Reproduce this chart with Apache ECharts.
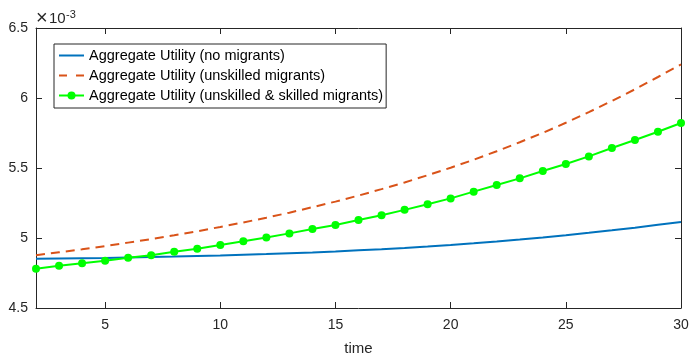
<!DOCTYPE html>
<html>
<head>
<meta charset="utf-8">
<script src="https://cdn.jsdelivr.net/npm/echarts@6/dist/echarts.min.js"></script>
<style>
  html, body { margin: 0; padding: 0; background: #fff; }
  #chart { width: 691px; height: 354px; }
</style>
</head>
<body>
<div id="chart"></div>
<script>
// time steps
var timeSteps = [2, 3, 4, 5, 6, 7, 8, 9, 10, 11, 12, 13, 14, 15, 16, 17, 18, 19, 20, 21, 22, 23, 24, 25, 26, 27, 28, 29, 30]
// values in units of 1e-3
var noMigrants = [4.852, 4.854, 4.856, 4.858, 4.861, 4.864, 4.867, 4.871, 4.875, 4.880, 4.885, 4.891, 4.897, 4.904, 4.912,
  4.920, 4.929, 4.939, 4.950, 4.962, 4.975, 4.989, 5.004, 5.020, 5.037, 5.055, 5.074, 5.094, 5.114]
var unskilledMigrants = [4.877, 4.898, 4.919, 4.942, 4.967, 4.992, 5.019, 5.048, 5.079, 5.111, 5.145, 5.181, 5.220, 5.260, 5.303,
  5.349, 5.397, 5.448, 5.502, 5.559, 5.620, 5.684, 5.751, 5.823, 5.899, 5.979, 6.062, 6.150, 6.240]
var bothMigrants = [4.781, 4.802, 4.819, 4.838, 4.859, 4.876, 4.902, 4.924, 4.950, 4.976, 5.004, 5.033, 5.064, 5.093, 5.128,
  5.163, 5.201, 5.241, 5.283, 5.331, 5.379, 5.426, 5.479, 5.529, 5.583, 5.643, 5.700, 5.759, 5.821]
var xTicks = [5, 10, 15, 20, 25, 30]
var seriesNames = ['Aggregate Utility (no migrants)', 'Aggregate Utility (unskilled migrants)', 'Aggregate Utility (unskilled & skilled migrants)']

function pairs(vals) {
  return timeSteps.map(function (t, i) { return [t, vals[i]] })
}

var axisColor = '#262626'
var font = 'Liberation Sans, Arial, sans-serif'

var chart = echarts.init(document.getElementById('chart'))
chart.setOption({
  animation: false,
  grid: { left: 36, right: 10, top: 28, bottom: 46, containLabel: false, outerBoundsMode: 'none' },
  graphic: [
    { type: 'text', left: 36, top: 8, style: { text: '×', font: '20px ' + font, fill: axisColor } },
    { type: 'text', left: 49, top: 11, style: { text: '10', font: '15px ' + font, fill: axisColor } },
    { type: 'text', left: 66, top: 9, style: { text: '-3', font: '11px ' + font, fill: axisColor } }
  ],
  legend: {
    orient: 'vertical',
    left: 54,
    top: 44,
    padding: [4, 3, 5, 4],
    itemWidth: 25,
    itemHeight: 10,
    itemGap: 5,
    borderColor: axisColor,
    borderWidth: 1,
    backgroundColor: '#fff',
    textStyle: { fontFamily: font, fontSize: 14.5, color: '#000', lineHeight: 14 },
    data: [
      { name: seriesNames[0], icon: 'path://M0,0h25v2h-25z' },
      { name: seriesNames[1], icon: 'path://M0,0h8v2h-8zM17,0h8v2h-8z' },
      { name: seriesNames[2] }
    ]
  },
  xAxis: [{
    type: 'value',
    min: 2,
    max: 30,
    name: 'time',
    nameLocation: 'middle',
    nameGap: 33,
    nameTextStyle: { fontFamily: font, fontSize: 15, color: axisColor },
    axisLine: { lineStyle: { color: axisColor, width: 1 } },
    axisTick: { inside: true, length: 6, customValues: xTicks, lineStyle: { color: axisColor } },
    axisLabel: { customValues: xTicks, margin: 10, fontFamily: font, fontSize: 14, color: axisColor },
    splitLine: { show: false }
  }, {
    type: 'value',
    position: 'top',
    min: 2,
    max: 30,
    axisLine: { lineStyle: { color: axisColor, width: 1 } },
    axisTick: { inside: true, length: 6, customValues: xTicks, lineStyle: { color: axisColor } },
    axisLabel: { show: false },
    splitLine: { show: false }
  }],
  yAxis: [{
    type: 'value',
    min: 4.5,
    max: 6.5,
    interval: 0.5,
    axisLine: { show: true, lineStyle: { color: axisColor, width: 1 } },
    axisTick: { show: true, inside: true, length: 6, lineStyle: { color: axisColor } },
    axisLabel: { margin: 8, fontFamily: font, fontSize: 14, color: axisColor },
    splitLine: { show: false }
  }, {
    type: 'value',
    position: 'right',
    min: 4.5,
    max: 6.5,
    interval: 0.5,
    axisLine: { show: true, lineStyle: { color: axisColor, width: 1 } },
    axisTick: { show: true, inside: true, length: 6, lineStyle: { color: axisColor } },
    axisLabel: { show: false },
    splitLine: { show: false }
  }],
  series: [{
    name: seriesNames[0],
    type: 'line',
    data: pairs(noMigrants),
    symbol: 'none',
    itemStyle: { color: '#0072BD' },
    lineStyle: { color: '#0072BD', width: 2 }
  }, {
    name: seriesNames[1],
    type: 'line',
    data: pairs(unskilledMigrants),
    symbol: 'none',
    itemStyle: { color: '#D95319' },
    lineStyle: { color: '#D95319', width: 2, type: [9, 6] }
  }, {
    name: seriesNames[2],
    type: 'line',
    data: pairs(bothMigrants),
    symbol: 'circle',
    symbolSize: 8,
    itemStyle: { color: '#00FF00' },
    lineStyle: { color: '#00FF00', width: 2 }
  }]
})
</script>
</body>
</html>
